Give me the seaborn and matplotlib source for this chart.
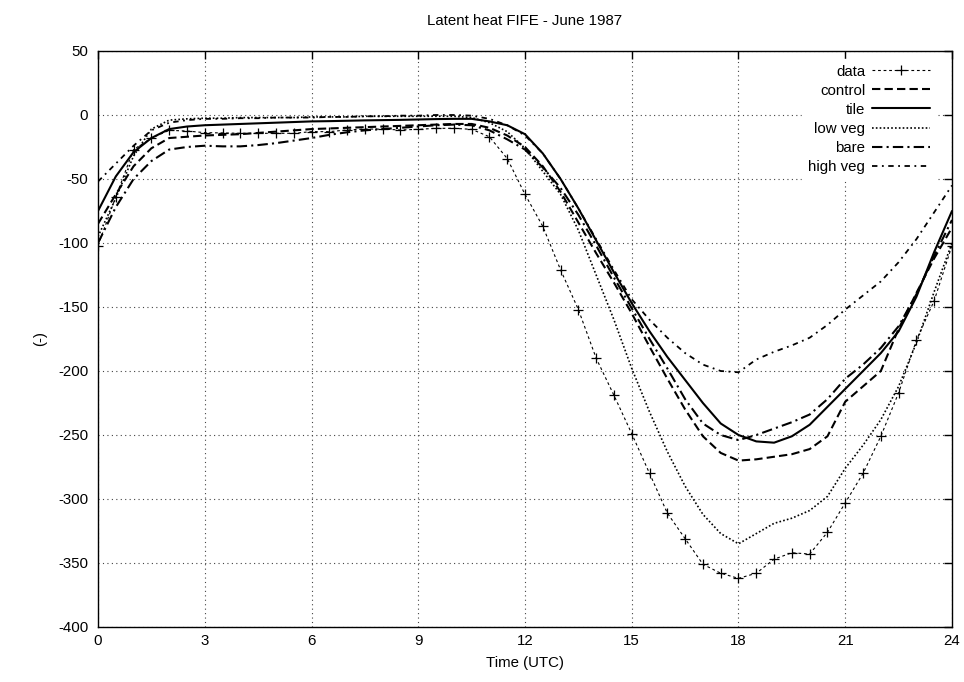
import matplotlib
matplotlib.use("Agg")
import matplotlib.pyplot as plt
import seaborn as sns
import pandas as pd

hours = [0, 0.5, 1, 1.5, 2, 2.5, 3, 3.5, 4, 4.5, 5, 5.5, 6, 6.5, 7, 7.5, 8, 8.5,
         9, 9.5, 10, 10.5, 11, 11.5, 12, 12.5, 13, 13.5, 14, 14.5, 15, 15.5, 16,
         16.5, 17, 17.5, 18, 18.5, 19, 19.5, 20, 20.5, 21, 21.5, 22, 22.5, 23,
         23.5, 24]

data = [-102, -64, -27, -18, -12, -12.5, -13.8, -14, -14.3, -14.3, -14.3, -14.3,
        -13, -13, -11.7, -11, -11, -11.7, -11.2, -10.4, -10.4, -11.2, -17, -34,
        -62, -87, -121, -152, -190, -219, -249, -280, -311, -331, -351, -358,
        -362, -358, -347, -342, -343, -326, -303, -280, -251, -217, -176, -145,
        -102]

control = [-85, -62, -40, -26, -18, -17, -16, -15.5, -15, -14, -13, -12, -11,
           -10.5, -10, -9.5, -9, -8.5, -8, -7.5, -7, -7, -10, -16, -25, -40,
           -60, -84, -108, -131, -155, -181, -206, -230, -251, -264, -270, -269,
           -267, -265, -261, -251, -224, -212, -200, -167, -139, -112, -88]

tile = [-75, -48, -29, -18, -11, -9, -8, -7.5, -7, -6.5, -6, -5.5, -5, -4.8,
        -4.5, -4.2, -4, -3.8, -3.5, -3.2, -3, -3, -5, -8, -15, -30, -50, -73,
        -98, -123, -147, -169, -189, -207, -225, -241, -250, -255, -256, -251,
        -242, -228, -214, -200, -186, -169, -142, -107, -75]

low_veg = [-95, -65, -32, -11, -4, -3, -2.5, -2.5, -2, -2, -2, -2, -1.5, -1.5,
           -1.5, -1, -1, -1, -1, -1, -1, -2, -6, -13, -26, -44, -62, -90, -125,
           -160, -198, -232, -263, -290, -312, -327, -335, -327, -319, -315,
           -309, -298, -276, -258, -238, -212, -178, -138, -100]

bare = [-100, -72, -50, -36, -27, -25, -24, -24.5, -24.5, -23.5, -22, -20, -18,
        -15.5, -13.5, -12, -11, -10, -9, -8, -7.5, -8, -12, -19, -27, -41, -57,
        -78, -102, -127, -151, -175, -198, -222, -241, -250, -254, -250, -245,
        -240, -234, -222, -206, -195, -182, -165, -140, -110, -82]

high_veg = [-52, -38, -24, -12, -6, -4, -3, -3, -2.5, -2.5, -2, -2, -2, -1.5,
            -1.5, -1, -1, -0.5, -0.5, 0, 0, -0.5, -3, -8, -16, -30, -50, -73,
            -97, -121, -144, -160, -174, -186, -195, -200, -201, -191, -185,
            -180, -174, -164, -152, -141, -130, -115, -97, -76, -55]

x_ticks = [0, 3, 6, 9, 12, 15, 18, 21, 24]
y_ticks = [-400, -350, -300, -250, -200, -150, -100, -50, 0, 50]

sns.set_theme(style="white")
plt.rcParams['font.family'] = ['Liberation Sans', 'DejaVu Sans']
plt.rcParams['axes.unicode_minus'] = False

FS = 10.8

fig = plt.figure(figsize=(9.64, 6.82), dpi=100)
ax = fig.add_axes([98 / 964, 1 - 627 / 682, (952 - 98) / 964, (627 - 51) / 682])

series = [
    ("data", data, dict(linestyle=(0, (2.5, 2.5)), linewidth=0.8,
                        marker="+", markersize=6.5, markeredgewidth=0.9,
                        markeredgecolor="black", markerfacecolor="black")),
    ("control", control, dict(linestyle=(0, (4, 2)), linewidth=1.5)),
    ("tile", tile, dict(linestyle="-", linewidth=1.5)),
    ("low veg", low_veg, dict(linestyle=(0, (1, 1.3)), linewidth=1.2)),
    ("bare", bare, dict(linestyle=(0, (5, 2, 1, 2)), linewidth=1.5)),
    ("high veg", high_veg, dict(linestyle=(0, (3, 2.5, 1, 2.5)), linewidth=1.3)),
]

for name, vals, kw in series:
    df = pd.DataFrame({"Time": hours, "value": vals})
    sns.lineplot(data=df, x="Time", y="value", ax=ax, color="black",
                 label=name, **kw)

ax.set_xlim(0, 24)
ax.set_ylim(-400, 50)
ax.set_xticks(x_ticks)
ax.set_yticks(y_ticks)
ax.grid(True, color="#444444", linestyle=(0, (1, 3)), linewidth=0.8)
ax.set_axisbelow(True)
for sp in ax.spines.values():
    sp.set_color("black")
    sp.set_linewidth(1.0)
ax.tick_params(axis="both", which="major", direction="in", length=6,
               width=1.0, color="black", top=True, right=True, labelsize=FS,
               labelcolor="black")
ax.tick_params(axis="x", pad=5)
ax.tick_params(axis="y", pad=7)

ax.set_title("Latent heat FIFE - June 1987", fontsize=FS, pad=18.5, color="black")
ax.set_xlabel("Time (UTC)", fontsize=FS, labelpad=6, color="black")
ax.set_ylabel("(-)", fontsize=FS, labelpad=8, color="black")

leg = ax.legend(loc="upper right", bbox_to_anchor=(0.9905, 1.0),
                markerfirst=False, frameon=True,
                fontsize=FS, handlelength=3.9, handletextpad=0.45,
                labelspacing=0.34, borderaxespad=0.5, borderpad=0.4)
leg.get_frame().set_facecolor("white")
leg.get_frame().set_edgecolor("white")
leg.get_frame().set_alpha(1.0)
leg.get_frame().set_boxstyle("Square", pad=0.0)
for t in leg.get_texts():
    t.set_color("black")

fig.savefig("out.png", dpi=100)
